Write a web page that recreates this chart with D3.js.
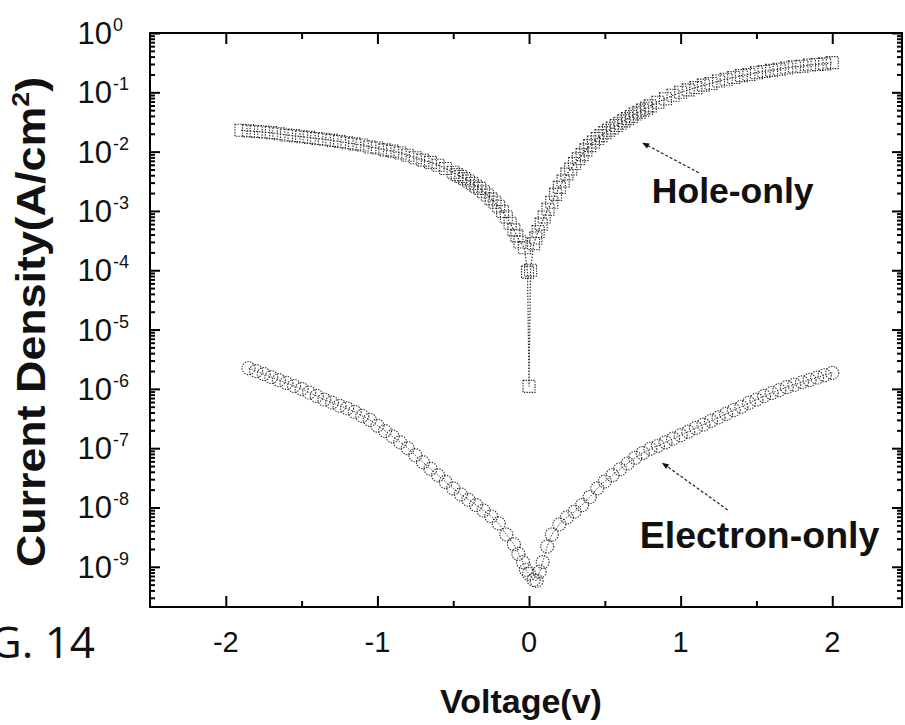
<!DOCTYPE html>
<html>
<head>
<meta charset="utf-8">
<script src="https://cdn.jsdelivr.net/npm/d3@7"></script>
<style>
  html, body { margin: 0; padding: 0; background: #fff; }
  svg { display: block; }
</style>
</head>
<body>
<svg id="chart" width="905" height="725"></svg>
<script>
// ---------- data ----------
const holeVoltage = [-1.90,-1.85,-1.80,-1.75,-1.70,-1.65,-1.60,-1.55,-1.50,-1.45,-1.40,-1.35,-1.30,-1.25,-1.20,-1.15,-1.10,-1.05,-1.00,-0.95,-0.90,-0.85,-0.80,-0.75,-0.70,-0.65,-0.60,-0.55,-0.50,-0.475,-0.45,-0.425,-0.40,-0.375,-0.35,-0.325,-0.30,-0.275,-0.25,-0.225,-0.20,-0.175,-0.15,-0.125,-0.10,-0.08,-0.06,-0.03,-0.01,0.00,0.01,0.03,0.045,0.06,0.08,0.10,0.125,0.15,0.175,0.20,0.225,0.25,0.275,0.30,0.325,0.35,0.375,0.40,0.425,0.45,0.475,0.50,0.525,0.55,0.575,0.60,0.625,0.65,0.675,0.70,0.725,0.75,0.775,0.80,0.85,0.90,0.95,1.00,1.05,1.10,1.15,1.20,1.25,1.30,1.35,1.40,1.45,1.50,1.55,1.60,1.65,1.70,1.75,1.80,1.85,1.90,1.95,2.00];
const holeCurrent = [2.29e-2,2.24e-2,2.19e-2,2.14e-2,2.09e-2,2.0e-2,1.91e-2,1.86e-2,1.78e-2,1.74e-2,1.66e-2,1.62e-2,1.55e-2,1.48e-2,1.41e-2,1.35e-2,1.29e-2,1.2e-2,1.15e-2,1.07e-2,1.02e-2,9.5e-3,8.7e-3,7.9e-3,7.2e-3,6.6e-3,5.9e-3,5.2e-3,4.5e-3,4.1e-3,3.8e-3,3.5e-3,3.2e-3,2.9e-3,2.6e-3,2.4e-3,2.1e-3,1.86e-3,1.6e-3,1.4e-3,1.2e-3,9.8e-4,7.9e-4,6.2e-4,4.8e-4,3.8e-4,3.0e-4,2.4e-4,9.3e-5,1.1e-6,1.0e-4,2.8e-4,3.5e-4,4.5e-4,6.0e-4,7.9e-4,1.07e-3,1.4e-3,1.9e-3,2.5e-3,3.2e-3,4.2e-3,5.1e-3,6.3e-3,7.6e-3,8.9e-3,1.07e-2,1.26e-2,1.45e-2,1.66e-2,1.86e-2,2.09e-2,2.29e-2,2.5e-2,2.75e-2,3.0e-2,3.3e-2,3.6e-2,3.9e-2,4.3e-2,4.6e-2,5.0e-2,5.4e-2,5.9e-2,6.8e-2,7.8e-2,8.9e-2,0.100,0.110,0.120,0.132,0.141,0.155,0.166,0.178,0.191,0.200,0.214,0.224,0.234,0.245,0.257,0.269,0.275,0.288,0.295,0.302,0.316];

const electronVoltage = [-1.85,-1.80,-1.75,-1.70,-1.65,-1.60,-1.55,-1.50,-1.45,-1.40,-1.35,-1.30,-1.25,-1.20,-1.15,-1.10,-1.05,-1.00,-0.95,-0.90,-0.85,-0.80,-0.75,-0.70,-0.65,-0.60,-0.55,-0.50,-0.45,-0.40,-0.35,-0.30,-0.25,-0.20,-0.15,-0.10,-0.07,-0.04,-0.02,0.00,0.03,0.05,0.07,0.09,0.12,0.15,0.20,0.25,0.30,0.35,0.40,0.45,0.50,0.55,0.60,0.65,0.70,0.75,0.80,0.85,0.90,0.95,1.00,1.05,1.10,1.15,1.20,1.25,1.30,1.35,1.40,1.45,1.50,1.55,1.60,1.65,1.70,1.75,1.80,1.85,1.90,1.95,2.00];
const electronCurrent = [2.24e-6,2.0e-6,1.78e-6,1.58e-6,1.41e-6,1.26e-6,1.12e-6,1.0e-6,8.7e-7,7.6e-7,6.6e-7,5.9e-7,5.2e-7,4.7e-7,4.1e-7,3.5e-7,3.0e-7,2.4e-7,1.95e-7,1.58e-7,1.26e-7,1.0e-7,7.6e-8,5.8e-8,4.5e-8,3.5e-8,2.7e-8,2.1e-8,1.66e-8,1.35e-8,1.1e-8,8.9e-9,7.1e-9,5.4e-9,3.5e-9,2.4e-9,1.66e-9,1.2e-9,8.9e-10,7.6e-10,6.0e-10,5.8e-10,8.3e-10,1.2e-9,2.2e-9,3.5e-9,5.2e-9,6.8e-9,8.5e-9,1.1e-8,1.5e-8,2.1e-8,2.75e-8,3.5e-8,4.4e-8,5.5e-8,6.9e-8,8.3e-8,9.8e-8,1.1e-7,1.26e-7,1.45e-7,1.66e-7,1.9e-7,2.2e-7,2.5e-7,2.9e-7,3.3e-7,3.8e-7,4.4e-7,5.0e-7,5.8e-7,6.6e-7,7.6e-7,8.5e-7,9.5e-7,1.07e-6,1.17e-6,1.29e-6,1.41e-6,1.55e-6,1.7e-6,1.86e-6];

const xTickValues = [-2, -1, 0, 1, 2];
const xTickLabels = ["-2", "-1", "0", "1", "2"];
const xMinorTickValues = [-1.5, -0.5, 0.5, 1.5];
const yExponents = [0, -1, -2, -3, -4, -5, -6, -7, -8, -9];
const xDomain = [-2.5, 2.46];
const yDomain = [2.1e-10, 1];

const xTitle = "Voltage(v)";
const yTitleMain = "Current Density(A/cm";
const yTitleSup = "2";
const figLabel = "FIG. 14";

// annotations
const annotationLabels = ["Hole-only", "Electron-only"];
const annotationTextV = [0.81, 0.73];
const annotationTextJ = [1.35e-3, 2.1e-9];
const arrowFromV = [1.12, 1.31];
const arrowFromJ = [4.4e-3, 9.1e-9];
const arrowToV = [0.75, 0.88];
const arrowToJ = [1.4e-2, 5.6e-8];

// ---------- drawing ----------
const svg = d3.select("#chart");
const pLeft = 150, pRight = 902, pTop = 33, pBottom = 607;
const x = d3.scaleLinear().domain(xDomain).range([pLeft, pRight]);
const y = d3.scaleLog().domain(yDomain).range([pBottom, pTop]);
const font = "'Liberation Sans', Arial, sans-serif";

const defs = svg.append("defs");
defs.append("marker").attr("id", "arrowHead")
  .attr("viewBox", "0 0 10 10").attr("refX", 9).attr("refY", 5)
  .attr("markerWidth", 9).attr("markerHeight", 7).attr("orient", "auto")
  .attr("markerUnits", "userSpaceOnUse")
  .append("path").attr("d", "M0,1 L10,5 L0,9 Z").attr("fill", "#111");

function series(vs, js) { return vs.map((v, i) => ({v: v, j: js[i]})); }
const hole = series(holeVoltage, holeCurrent);
const elec = series(electronVoltage, electronCurrent);

const line = d3.line().x(d => x(d.v)).y(d => y(d.j));
const plotG = svg.append("g");

plotG.append("path").datum(hole).attr("d", line)
  .attr("fill", "none").attr("stroke", "#333").attr("stroke-width", 1.2)
  .attr("stroke-dasharray", "1.5,1.5");
plotG.append("path").datum(elec).attr("d", line)
  .attr("fill", "none").attr("stroke", "#444").attr("stroke-width", 1)
  .attr("stroke-dasharray", "1.5,1.5");

const sq = 12;
plotG.selectAll("rect.hole").data(hole).enter().append("rect")
  .attr("class", "hole")
  .attr("x", d => x(d.v) - sq / 2).attr("y", d => y(d.j) - sq / 2)
  .attr("width", sq).attr("height", sq)
  .attr("fill", "none").attr("stroke", "#2a2a2a").attr("stroke-width", 1.1)
  .attr("stroke-dasharray", "1.4,1.2");

plotG.selectAll("circle.elec").data(elec).enter().append("circle")
  .attr("class", "elec")
  .attr("cx", d => x(d.v)).attr("cy", d => y(d.j)).attr("r", 6.5)
  .attr("fill", "none").attr("stroke", "#333").attr("stroke-width", 1.1)
  .attr("stroke-dasharray", "1.4,1.2");

// axes (ticks pointing inward)
const majorY = yExponents.map(e => Math.pow(10, e));
const minorY = [];
yExponents.concat([-10]).forEach(e => {
  for (let k = 2; k <= 9; k++) {
    const val = k * Math.pow(10, e);
    if (val > yDomain[0] && val < yDomain[1]) minorY.push(val);
  }
});

function styleAxis(g) {
  g.select(".domain").remove();
  g.selectAll(".tick line").attr("stroke", "#000").attr("stroke-width", 2);
  g.selectAll(".tick text").remove();
}

svg.append("g").attr("transform", `translate(0,${pBottom})`)
  .call(d3.axisBottom(x).tickValues(xTickValues).tickSize(-11).tickFormat("")).call(styleAxis);
svg.append("g").attr("transform", `translate(0,${pBottom})`)
  .call(d3.axisBottom(x).tickValues(xMinorTickValues).tickSize(-6).tickFormat("")).call(styleAxis);
svg.append("g").attr("transform", `translate(0,${pTop})`)
  .call(d3.axisTop(x).tickValues(xTickValues).tickSize(-11).tickFormat("")).call(styleAxis);
svg.append("g").attr("transform", `translate(0,${pTop})`)
  .call(d3.axisTop(x).tickValues(xMinorTickValues).tickSize(-6).tickFormat("")).call(styleAxis);

svg.append("g").attr("transform", `translate(${pLeft},0)`)
  .call(d3.axisLeft(y).tickValues(majorY).tickSize(-10).tickFormat("")).call(styleAxis);
svg.append("g").attr("transform", `translate(${pLeft},0)`)
  .call(d3.axisLeft(y).tickValues(minorY).tickSize(-5).tickFormat("")).call(styleAxis);
svg.append("g").attr("transform", `translate(${pRight},0)`)
  .call(d3.axisRight(y).tickValues(majorY).tickSize(-10).tickFormat("")).call(styleAxis);
svg.append("g").attr("transform", `translate(${pRight},0)`)
  .call(d3.axisRight(y).tickValues(minorY).tickSize(-5).tickFormat("")).call(styleAxis);

// frame
svg.append("rect").attr("x", pLeft).attr("y", pTop)
  .attr("width", pRight - pLeft).attr("height", pBottom - pTop)
  .attr("fill", "none").attr("stroke", "#000").attr("stroke-width", 2);

// x tick labels
svg.append("g").selectAll("text").data(xTickValues).enter().append("text")
  .attr("x", d => x(d)).attr("y", pBottom + 45)
  .attr("text-anchor", "middle")
  .attr("font-family", font).attr("font-size", 29).attr("fill", "#111")
  .text((d, i) => xTickLabels[i]);

// y tick labels 10^n
const yl = svg.append("g").selectAll("g").data(yExponents).enter().append("g");
yl.append("text")
  .attr("x", pLeft - 38).attr("y", d => y(Math.pow(10, d)) + 11)
  .attr("text-anchor", "end")
  .attr("font-family", font).attr("font-size", 31).attr("fill", "#111")
  .text("10");
yl.append("text")
  .attr("x", pLeft - 37).attr("y", d => y(Math.pow(10, d)) - 2)
  .attr("text-anchor", "start")
  .attr("font-family", font).attr("font-size", 18).attr("fill", "#111")
  .text(d => String(d));

// axis titles
svg.append("text")
  .attr("x", 521).attr("y", 713)
  .attr("text-anchor", "middle")
  .attr("font-family", font).attr("font-weight", "bold").attr("font-size", 34)
  .attr("fill", "#111").text(xTitle);

const yt = svg.append("text")
  .attr("transform", "translate(45,322) rotate(-90) scale(1.12,1)")
  .attr("text-anchor", "middle")
  .attr("font-family", font).attr("font-weight", "bold").attr("font-size", 40)
  .attr("fill", "#111");
yt.append("tspan").text(yTitleMain);
yt.append("tspan").attr("font-size", 24).attr("dy", -16).text(yTitleSup);
yt.append("tspan").attr("dy", 16).text(")");

// figure label (cut at the left edge as in the source image)
svg.append("text")
  .attr("x", 95).attr("y", 658)
  .attr("text-anchor", "end")
  .attr("font-family", "'Open Sans', 'Noto Sans', sans-serif").attr("font-size", 44)
  .attr("fill", "#111").text(figLabel);

// annotations
const annotationSizes = [35.5, 37.5];
annotationLabels.forEach((lab, i) => {
  svg.append("line")
    .attr("x1", x(arrowFromV[i])).attr("y1", y(arrowFromJ[i]))
    .attr("x2", x(arrowToV[i])).attr("y2", y(arrowToJ[i]))
    .attr("stroke", "#222").attr("stroke-width", 1.2)
    .attr("stroke-dasharray", "3,2")
    .attr("marker-end", "url(#arrowHead)");
  svg.append("text")
    .attr("x", x(annotationTextV[i])).attr("y", y(annotationTextJ[i]))
    .attr("font-family", font).attr("font-weight", "bold").attr("font-size", annotationSizes[i])
    .attr("fill", "#111").text(lab);
});
</script>
</body>
</html>
